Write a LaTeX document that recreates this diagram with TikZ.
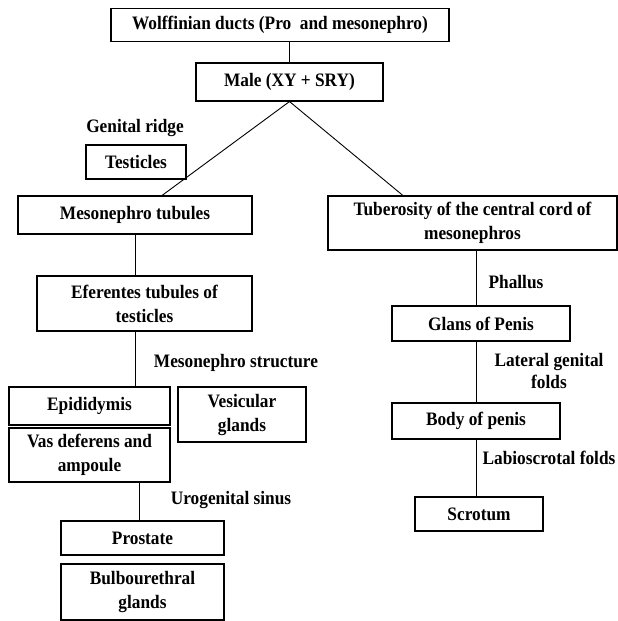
\documentclass[tikz,border=0pt]{standalone}
\usepackage{fontspec}
\setmainfont{Liberation Serif}[FakeStretch=0.91]
\usetikzlibrary{calc}

\tikzset{
    organ/.style={draw,line width=1.1pt,inner sep=0pt,align=center,
        font=\bfseries\fontsize{19}{24}\selectfont},
    tag/.style={inner sep=0pt,align=center,font=\bfseries\fontsize{19}{22}\selectfont},
    link/.style={line width=0.9pt}
}

\begin{document}
\begin{tikzpicture}[x=1pt,y=-1pt]
    \useasboundingbox (0,0) rectangle (618,621);
    % top of the tree
    \node[organ,minimum width=338,minimum height=33] (wolff) at (280,25) {Wolffinian ducts (Pro\ \ and mesonephro)};
    \node[organ,minimum width=187,minimum height=38] (male) at (289.5,82) {Male (XY + SRY)};
    \node[tag] (ridge) at (135,128) {Genital ridge};
    \node[organ,minimum width=100,minimum height=34] (testes) at (136,162) {Testicles};
    \node[organ,minimum width=234,minimum height=38] (meso) at (135,215) {Mesonephro tubules};
    \node[organ,minimum width=289,minimum height=54] (tuber) at (472.5,223) {Tuberosity of the central cord of\\mesonephros};
    % left branch
    \node[organ,minimum width=215,minimum height=55] (eferent) at (144.5,303.5) {Eferentes tubules of\\testicles};
    \node[tag] (struct) at (236,363) {Mesonephro structure};
    \node[organ,minimum width=161,minimum height=38] (epid) at (89.5,406) {Epididymis};
    \node[organ,minimum width=128,minimum height=55] (vesic) at (242,414.5) {Vesicular\\glands};
    \node[organ,minimum width=161,minimum height=54] (vas) at (89.5,455) {Vas deferens and\\ampoule};
    \node[tag] (sinus) at (231,500) {Urogenital sinus};
    \node[organ,minimum width=163,minimum height=34] (prost) at (142.5,538) {Prostate};
    \node[organ,minimum width=163,minimum height=56] (bulbo) at (142.5,592) {Bulbourethral\\glands};
    % right branch
    \node[tag] (phallus) at (516,282) {Phallus};
    \node[organ,minimum width=178,minimum height=35] (glans) at (481,323.5) {Glans of Penis};
    \node[tag] (lateral) at (549,371) {Lateral genital\\folds};
    \node[organ,minimum width=168,minimum height=36] (body) at (476,421) {Body of penis};
    \node[tag] (labio) at (549,458) {Labioscrotal folds};
    \node[organ,minimum width=128,minimum height=34] (scrot) at (479,514) {Scrotum};
    % connectors
    \draw[link] (wolff.south -| male) -- (male.north);
    \draw[link] ($(meso.north west)!0.615!(meso.north east)$) -- (male.south) -- ($(tuber.north west)!0.26!(tuber.north east)$);
    \draw[link] (meso.south) -- (meso.south |- eferent.north);
    \draw[link] (eferent.south -| meso) -- (epid.north -| meso);
    \draw[link] (vas.south -| 139,0) -- (prost.north -| 139,0);
    \draw[link] (tuber.south -| body) -- (glans.north -| body);
    \draw[link] (glans.south -| body) -- (body.north);
    \draw[link] (body.south) -- (scrot.north -| body);
\end{tikzpicture}
\end{document}
